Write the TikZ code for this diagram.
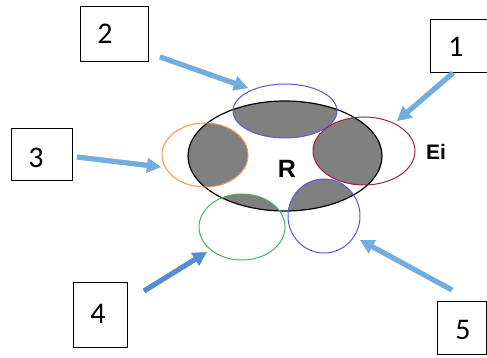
\documentclass[tikz,border=0pt]{standalone}
\usepackage{fontspec}
\setmainfont{Carlito}
\newfontfamily\arialf{Liberation Sans}
\usetikzlibrary{shapes.geometric,arrows.meta}
\definecolor{arrowblue}{RGB}{112,173,225}
\definecolor{arrowdark}{RGB}{84,141,210}
\definecolor{shadowgray}{RGB}{185,185,185}
\definecolor{fillgray}{RGB}{128,128,128}
\definecolor{ebluetop}{RGB}{90,90,225}
\definecolor{eorange}{RGB}{247,150,70}
\definecolor{ered}{RGB}{160,35,60}
\definecolor{egreen}{RGB}{60,185,90}
\definecolor{ebluebot}{RGB}{90,90,225}
\tikzset{
  numbox/.style={draw=black, line width=0.9pt, fill=white, rectangle, inner sep=0pt, outer sep=0pt},
  numtxt/.style={font=\fontsize{30}{30}\selectfont, inner sep=0pt},
  oval/.style={ellipse, inner sep=0pt, outer sep=0pt, line width=1pt},
  bigarrow/.style={line width=5pt, -{Triangle[length=14pt, width=14pt]}},
  shadowarrow/.style={bigarrow, draw=shadowgray},
}
\begin{document}
\begin{tikzpicture}[x=1pt, y=-1pt]
\useasboundingbox (0,0) rectangle (487,358);
% centres
\coordinate (cR) at (285,156);
\coordinate (cT) at (285,111);
\coordinate (cL) at (205,155);
\coordinate (cE) at (364,151);
\coordinate (cG) at (242,227);
\coordinate (cB) at (324,216);
% shaded overlaps
\begin{scope}
  \clip (cR) ellipse [x radius=97pt, y radius=55pt];
  \fill[fillgray] (cT) ellipse [x radius=52pt, y radius=27pt];
  \fill[fillgray] (cL) ellipse [x radius=43pt, y radius=32pt];
  \fill[fillgray] (cE) ellipse [x radius=51pt, y radius=34pt];
  \fill[fillgray] (cG) ellipse [x radius=43pt, y radius=33pt];
  \fill[fillgray] (cB) ellipse [x radius=36pt, y radius=37pt];
\end{scope}
% ellipses
\node[oval, draw=black, line width=1.2pt, minimum width=194pt, minimum height=110pt] (R) at (cR) {};
\node[oval, draw=ebluetop, minimum width=104pt, minimum height=54pt] (top) at (cT) {};
\node[oval, draw=eorange, minimum width=86pt, minimum height=64pt] (left) at (cL) {};
\node[oval, draw=ered, minimum width=102pt, minimum height=68pt] (Ei) at (cE) {};
\node[oval, draw=egreen, minimum width=86pt, minimum height=66pt] (green) at (cG) {};
\node[oval, draw=ebluebot, minimum width=72pt, minimum height=74pt] (bot) at (cB) {};
% labels
\node[font=\arialf\bfseries\fontsize{25}{25}\selectfont, inner sep=0pt] (Rl) at (287,169) {R};
\node[font=\arialf\bfseries\fontsize{21}{21}\selectfont, inner sep=0pt] (Eil) at (436,152) {Ei};
% boxes
\node[numbox, minimum width=57pt, minimum height=53pt] (b1) at (458.5,45.5) {};
\node[numtxt] (t1) at (456,47) {1};
\node[numbox, minimum width=68pt, minimum height=55pt] (b2) at (114,33.5) {};
\node[numtxt] (t2) at (105,34) {2};
\node[numbox, minimum width=61pt, minimum height=52pt] (b3) at (41.5,154) {};
\node[numtxt] (t3) at (36,158) {3};
\node[numbox, minimum width=54pt, minimum height=65pt] (b4) at (100,314.5) {};
\node[numtxt] (t4) at (98,314) {4};
\node[numbox, minimum width=49.5pt, minimum height=53pt] (b5) at (461.75,327.5) {};
\node[numtxt] (t5) at (463,330) {5};
% arrow end points
\coordinate (a1s) at (453,73);  \coordinate (a1e) at (397,121);
\coordinate (a2s) at (160,57);  \coordinate (a2e) at (248,88);
\coordinate (a3s) at (77,157);  \coordinate (a3e) at (161,167);
\coordinate (a4s) at (144,291); \coordinate (a4e) at (207,252);
\coordinate (a5s) at (452,290); \coordinate (a5e) at (360,240);
% shadows
\begin{scope}[shift={(1.5,2.5)}]
  \draw[shadowarrow] (a1s) -- (a1e);
  \draw[shadowarrow] (a2s) -- (a2e);
  \draw[shadowarrow] (a3s) -- (a3e);
  \draw[shadowarrow] (a4s) -- (a4e);
  \draw[shadowarrow] (a5s) -- (a5e);
\end{scope}
% arrows
\draw[bigarrow, draw=arrowblue, fill=arrowblue] (a1s) -- (a1e);
\draw[bigarrow, draw=arrowblue, fill=arrowblue] (a2s) -- (a2e);
\draw[bigarrow, draw=arrowblue, fill=arrowblue] (a3s) -- (a3e);
\draw[bigarrow, draw=arrowdark, fill=arrowdark] (a4s) -- (a4e);
\draw[bigarrow, draw=arrowblue, fill=arrowblue] (a5s) -- (a5e);
\end{tikzpicture}
\end{document}
